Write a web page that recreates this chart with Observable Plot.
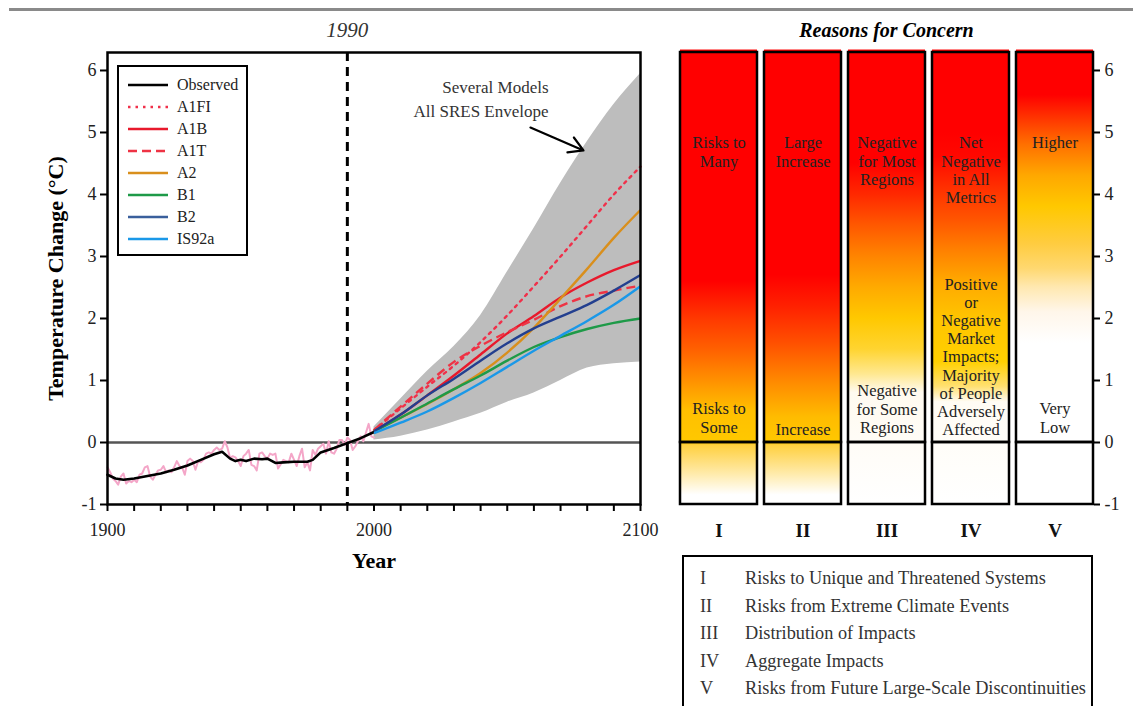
<!DOCTYPE html>
<html><head><meta charset="utf-8">
<script src="https://cdn.jsdelivr.net/npm/d3@7"></script>
<script src="https://cdn.jsdelivr.net/npm/@observablehq/plot@0.6"></script>
<style>
body{margin:0;background:#fff;}
#wrap{position:relative;width:1133px;height:706px;overflow:hidden;font-family:"Liberation Serif","Times New Roman",serif;color:#222;}
.abs{position:absolute;}
#wrap svg{font-family:"Liberation Serif","Times New Roman",serif;}
.leg{font-size:16px;line-height:22px;}
.leg .row{display:flex;align-items:center;height:22px;}
.leg svg{margin-left:9px;margin-right:9px;}
.box{font-size:18.3px;line-height:27.5px;white-space:nowrap;}
.box .row{display:flex;white-space:nowrap;}
.box .num{width:61px;flex:none;padding-left:16px;box-sizing:border-box;}
</style></head><body><div id="wrap"></div>
<script>
// ---------- Observed temperatures (°C, relative to 1990) ----------
const obsYears  = [1900,1903,1906,1910,1915,1920,1925,1930,1935,1940,1943,1946,1948,1950,1952,1955,1958,1960,1963,1966,1970,1975,1977,1980,1985,1990,1995,2000];
const obsSmooth = [-0.52,-0.58,-0.60,-0.58,-0.54,-0.50,-0.44,-0.37,-0.28,-0.19,-0.15,-0.26,-0.30,-0.28,-0.30,-0.26,-0.27,-0.26,-0.33,-0.32,-0.31,-0.31,-0.28,-0.16,-0.09,-0.01,0.07,0.17];
const annualYears = d3.range(1900, 2001);
const annualValues = [
 -0.40,-0.48,-0.58,-0.62,-0.68,-0.55,-0.50,-0.66,-0.62,-0.64,
 -0.60,-0.64,-0.52,-0.50,-0.40,-0.38,-0.55,-0.60,-0.52,-0.45,
 -0.44,-0.38,-0.48,-0.45,-0.48,-0.40,-0.30,-0.38,-0.40,-0.52,
 -0.30,-0.26,-0.30,-0.44,-0.30,-0.32,-0.28,-0.18,-0.16,-0.18,
 -0.12,-0.08,-0.12,-0.10,0.02,-0.08,-0.25,-0.22,-0.24,-0.30,
 -0.38,-0.22,-0.18,-0.12,-0.36,-0.38,-0.45,-0.18,-0.16,-0.22,
 -0.26,-0.18,-0.20,-0.18,-0.42,-0.35,-0.28,-0.30,-0.32,-0.18,
 -0.28,-0.38,-0.22,-0.10,-0.40,-0.32,-0.45,-0.12,-0.20,-0.10,
 -0.06,-0.02,-0.18,0.02,-0.16,-0.18,-0.10,0.04,0.04,-0.04,
 0.08,0.04,-0.12,-0.06,0.02,0.10,0.02,0.16,0.30,0.10,0.08];

// ---------- Projections ----------
const projYears = [2000,2010,2020,2030,2040,2050,2060,2070,2080,2090,2100];
const A1FI  = [0.20,0.55,0.90,1.24,1.62,2.05,2.52,3.00,3.50,4.00,4.45];
const A1B   = [0.18,0.45,0.76,1.08,1.42,1.76,2.04,2.34,2.58,2.78,2.93];
const A1T   = [0.20,0.58,0.95,1.30,1.56,1.78,1.98,2.20,2.36,2.45,2.53];
const A2    = [0.18,0.40,0.62,0.86,1.12,1.45,1.85,2.32,2.80,3.30,3.75];
const B1    = [0.18,0.40,0.63,0.86,1.08,1.32,1.54,1.70,1.83,1.93,2.00];
const B2    = [0.18,0.45,0.76,1.03,1.32,1.60,1.84,2.03,2.22,2.45,2.70];
const IS92a = [0.15,0.32,0.50,0.72,0.96,1.22,1.48,1.72,1.96,2.22,2.52];
const envLow  = [0.04,0.10,0.20,0.33,0.47,0.65,0.80,1.00,1.20,1.27,1.30];
const envHigh = [0.25,0.70,1.15,1.55,2.05,2.75,3.45,4.18,4.85,5.45,5.95];

const scenarioNames = ["A1FI","A1B","A1T","A2","B1","B2","IS92a"];
const scenarioValues = [A1FI, A1B, A1T, A2, B1, B2, IS92a];
const scenarioColors = ["#f0304a","#e8192c","#ee3344","#d98f1c","#1e9a48","#233f8f","#1a98e8"];
const scenarioDash   = ["2.5,5","none","9,5","none","none","none","none"];

const legendNames  = ["Observed","A1FI","A1B","A1T","A2","B1","B2","IS92a"];
const legendColors = ["#000000","#f0304a","#e8192c","#ee3344","#d98f1c","#1e9a48","#3a5f9c","#1a98e8"];
const legendDash   = ["none","2.5,5","none","9,5","none","none","none","none"];

const noteLines = ["Several Models","All SRES Envelope"];
const noteAnchor = {year: 2065.5, t: 5.73};
const noteArrow = {x1: 2058.7, y1: 5.08, x2: 2078.6, y2: 4.71};

const yTicks = [-1,0,1,2,3,4,5,6];
const yMax = 6.29;

// ---------- Reasons for concern ----------
const concerns = ["I","II","III","IV","V"];
const concernNames = ["Risks to Unique and Threatened Systems","Risks from Extreme Climate Events","Distribution of Impacts","Aggregate Impacts","Risks from Future Large-Scale Discontinuities"];
// gradient stops: [temperature, colour]
const stopsI   = [[-1,"#ffffff"],[-0.85,"#ffffff"],[-0.5,"#ffeaa8"],[-0.05,"#ffd040"],[0,"#ffc800"],[0.5,"#ffc000"],[1.0,"#ff9000"],[1.5,"#ff6000"],[2.0,"#ff3800"],[2.6,"#ff0000"],[6.4,"#ff0000"]];
const stopsII  = [[-1,"#ffffff"],[-0.85,"#ffffff"],[-0.5,"#ffeaa8"],[-0.05,"#ffd040"],[0,"#ffc800"],[0.4,"#ffbc00"],[1.0,"#ff8800"],[1.6,"#ff5000"],[2.2,"#ff2000"],[2.7,"#ff0000"],[6.4,"#ff0000"]];
const stopsIII = [[-1,"#ffffff"],[0.8,"#fffaf0"],[1.1,"#ffe890"],[1.5,"#ffd430"],[2.0,"#ffc800"],[2.5,"#ffaa00"],[3.0,"#ff8400"],[3.5,"#ff5800"],[4.0,"#ff2800"],[4.5,"#ff0000"],[6.4,"#ff0000"]];
const stopsIV  = [[-1,"#ffffff"],[0.65,"#fffcf4"],[0.9,"#ffe070"],[1.3,"#ffd000"],[2.0,"#ffc400"],[2.6,"#ffa800"],[3.1,"#ff8000"],[3.6,"#ff5400"],[4.1,"#ff3000"],[4.6,"#ff0800"],[5.0,"#ff0000"],[6.4,"#ff0000"]];
const stopsV   = [[-1,"#ffffff"],[1.6,"#ffffff"],[2.1,"#fff6ea"],[2.5,"#ffe8b0"],[2.8,"#ffd870"],[3.2,"#ffcc40"],[3.8,"#ffc800"],[4.3,"#ffa800"],[4.8,"#ff7000"],[5.2,"#ff3800"],[5.6,"#ff0000"],[6.4,"#ff0000"]];
const emberStops = [stopsI, stopsII, stopsIII, stopsIV, stopsV];

const emberLabelCol  = ["I","I","II","II","III","III","IV","IV","V","V"];
const emberLabelTemp = [4.95,0.66,4.95,0.33,4.95,0.95,4.95,2.67,4.95,0.66];
const emberLabelText = ["Risks to\nMany","Risks to\nSome","Large\nIncrease","Increase","Negative\nfor Most\nRegions","Negative\nfor Some\nRegions","Net\nNegative\nin All\nMetrics","Positive\nor\nNegative\nMarket\nImpacts;\nMajority\nof People\nAdversely\nAffected","Higher","Very\nLow"];

// ---------- tables ----------
const obs = obsYears.map((year, i) => ({year, t: obsSmooth[i]}));
const annual = annualYears.map((year, i) => ({year, t: annualValues[i]}));
const envelope = projYears.map((year, i) => ({year, lo: envLow[i], hi: envHigh[i]}));
const emberLabels = emberLabelText.map((text, i) => ({c: emberLabelCol[i], t: emberLabelTemp[i], text}));
const plainNum = d => String(d);

const wrap = document.getElementById("wrap");
const topLine = document.createElement("div");
topLine.className = "abs";
topLine.style.cssText = "left:9px;top:8px;width:1124px;height:3px;background:#8a8a8a;";
wrap.appendChild(topLine);

// ---------- left chart ----------
const projMarks = scenarioNames.map((name, k) => Plot.line(projYears.map((year, i) => ({year, t: scenarioValues[k][i]})), {
  x: "year", y: "t", stroke: scenarioColors[k], strokeWidth: 2.4, curve: "monotone-x",
  strokeDasharray: scenarioDash[k] === "none" ? undefined : scenarioDash[k],
  strokeLinecap: k === 0 ? "round" : "butt"
}));

const left = Plot.plot({
  width: 660, height: 580,
  marginLeft: 107, marginRight: 20, marginTop: 52, marginBottom: 76,
  style: {fontFamily: "Liberation Serif, Times New Roman, serif", color: "#222", background: "transparent"},
  x: {domain: [1900, 2100]},
  y: {domain: [-1, yMax]},
  marks: [
    Plot.areaY(envelope, {x: "year", y1: "lo", y2: "hi", fill: "#bdbdbd", curve: "monotone-x"}),
    Plot.ruleY([0], {stroke: "#555", strokeWidth: 2.5}),
    Plot.line(annual, {x: "year", y: "t", stroke: "#f4a6c8", strokeWidth: 2}),
    Plot.line(obs, {x: "year", y: "t", stroke: "#000", strokeWidth: 2.6}),
    ...projMarks,
    Plot.ruleX([1990], {stroke: "#000", strokeWidth: 3, strokeDasharray: "9,6"}),
    Plot.frame({stroke: "#000", strokeWidth: 2.5}),
    Plot.axisY({ticks: yTicks, tickFormat: plainNum, tickSize: 7, tickPadding: 4, fontSize: 18, label: null, stroke: "#000", strokeWidth: 2}),
    Plot.axisX({ticks: d3.range(1900, 2101, 10), tickFormat: d => d % 100 === 0 ? String(d) : "", tickSize: 7, tickPadding: 12, fontSize: 18, label: null, stroke: "#000", strokeWidth: 2}),
    Plot.text(["Temperature Change (°C)"], {frameAnchor: "left", textAnchor: "middle", rotate: -90, dx: -52, fontSize: 22, fontWeight: "bold", fill: "#000"}),
    Plot.text(["Year"], {frameAnchor: "bottom", dy: 63, fontSize: 22, fontWeight: "bold", fill: "#000"}),
    Plot.text([1990], {x: d => d, frameAnchor: "top", dy: -30, text: d => String(d), fontSize: 21, fontStyle: "italic", fill: "#333"}),
    Plot.text([noteLines.join("\n")], {x: noteAnchor.year, y: noteAnchor.t, textAnchor: "end", lineAnchor: "middle", lineHeight: 1.45, fontSize: 17, fill: "#333", dy: 10}),
    Plot.arrow([noteArrow], {x1: "x1", y1: "y1", x2: "x2", y2: "y2", stroke: "#000", strokeWidth: 2.2, headLength: 11, bend: 0})
  ]
});
left.classList.add("abs");
left.style.left = "0px"; left.style.top = "0px";
wrap.appendChild(left);

// legend (HTML overlay)
const leg = document.createElement("div");
leg.className = "abs leg";
leg.style.cssText = "left:117px;top:65px;width:127px;height:180px;border:2px solid #000;padding-top:7px;box-sizing:content-box;background:#fff;";
legendNames.forEach((name, i) => {
  const row = document.createElement("div");
  row.className = "row";
  const dash = legendDash[i] === "none" ? "" : `stroke-dasharray="${legendDash[i]}"`;
  row.innerHTML = `<svg width="40" height="8"><line x1="0" y1="4" x2="40" y2="4" stroke="${legendColors[i]}" stroke-width="2.4" ${dash}/></svg><span>${name}</span>`;
  leg.appendChild(row);
});
wrap.appendChild(leg);

// ---------- right chart (embers) ----------
const emberFill = concerns.map(c => ({c, lo: -1, hi: yMax + 0.04}));
const emberBelow = concerns.map(c => ({c, lo: -1, hi: 0}));
const emberAbove = concerns.map(c => ({c, lo: 0, hi: yMax}));

const right = Plot.plot({
  width: 473, height: 580,
  marginLeft: 19, marginRight: 40, marginTop: 52, marginBottom: 76,
  style: {fontFamily: "Liberation Serif, Times New Roman, serif", color: "#222", background: "transparent", overflow: "visible"},
  x: {domain: concerns, paddingInner: 0.085, paddingOuter: 0},
  y: {domain: [-1, yMax]},
  marks: [
    ...concerns.map((c, k) => Plot.barY([emberFill[k]], {x: "c", y1: "lo", y2: "hi", fill: `url(#ember-${c})`})),
    Plot.barY(emberBelow, {x: "c", y1: "lo", y2: "hi", fill: "none", stroke: "#000", strokeWidth: 2.5}),
    Plot.barY(emberAbove, {x: "c", y1: "lo", y2: "hi", fill: "none", stroke: "#000", strokeWidth: 2.5}),
    Plot.text(emberLabels, {x: "c", y: "t", text: "text", lineAnchor: "top", lineHeight: 1.1, fontSize: 16.5, fill: "#222"}),
    Plot.axisY({anchor: "right", ticks: yTicks, tickFormat: plainNum, tickSize: 6, tickPadding: 5, fontSize: 18, label: null, stroke: "#000", strokeWidth: 2}),
    Plot.axisX({anchor: "bottom", tickSize: 0, tickPadding: 19, fontSize: 19, fontWeight: "bold", label: null, fill: "#111"}),
    Plot.text(["Reasons for Concern"], {frameAnchor: "top", dy: -30, fontSize: 20, fontWeight: "bold", fontStyle: "italic", fill: "#000"})
  ]
});
right.classList.add("abs");
right.style.left = "660px"; right.style.top = "0px";
// gradients built from the chart's own y scale
const ys = right.scale("y");
const yBottom = ys.apply(-1), yTopPx = ys.apply(6.4);
const defs = d3.select(right).insert("defs", ":first-child");
concerns.forEach((c, k) => {
  const g = defs.append("linearGradient").attr("id", `ember-${c}`)
    .attr("gradientUnits", "userSpaceOnUse")
    .attr("x1", 0).attr("x2", 0).attr("y1", yBottom).attr("y2", yTopPx);
  emberStops[k].forEach(([t, col]) => {
    g.append("stop").attr("offset", (t + 1) / 7.4).attr("stop-color", col);
  });
});
wrap.appendChild(right);

// concern descriptions box
const box = document.createElement("div");
box.className = "abs box";
box.style.cssText = "left:682px;top:555px;width:407px;height:180px;border:2px solid #000;padding-top:8px;color:#333;overflow:hidden;";
concerns.forEach((c, i) => {
  const row = document.createElement("div");
  row.className = "row";
  row.innerHTML = `<span class="num">${c}</span><span>${concernNames[i]}</span>`;
  box.appendChild(row);
});
wrap.appendChild(box);
</script></body></html>
